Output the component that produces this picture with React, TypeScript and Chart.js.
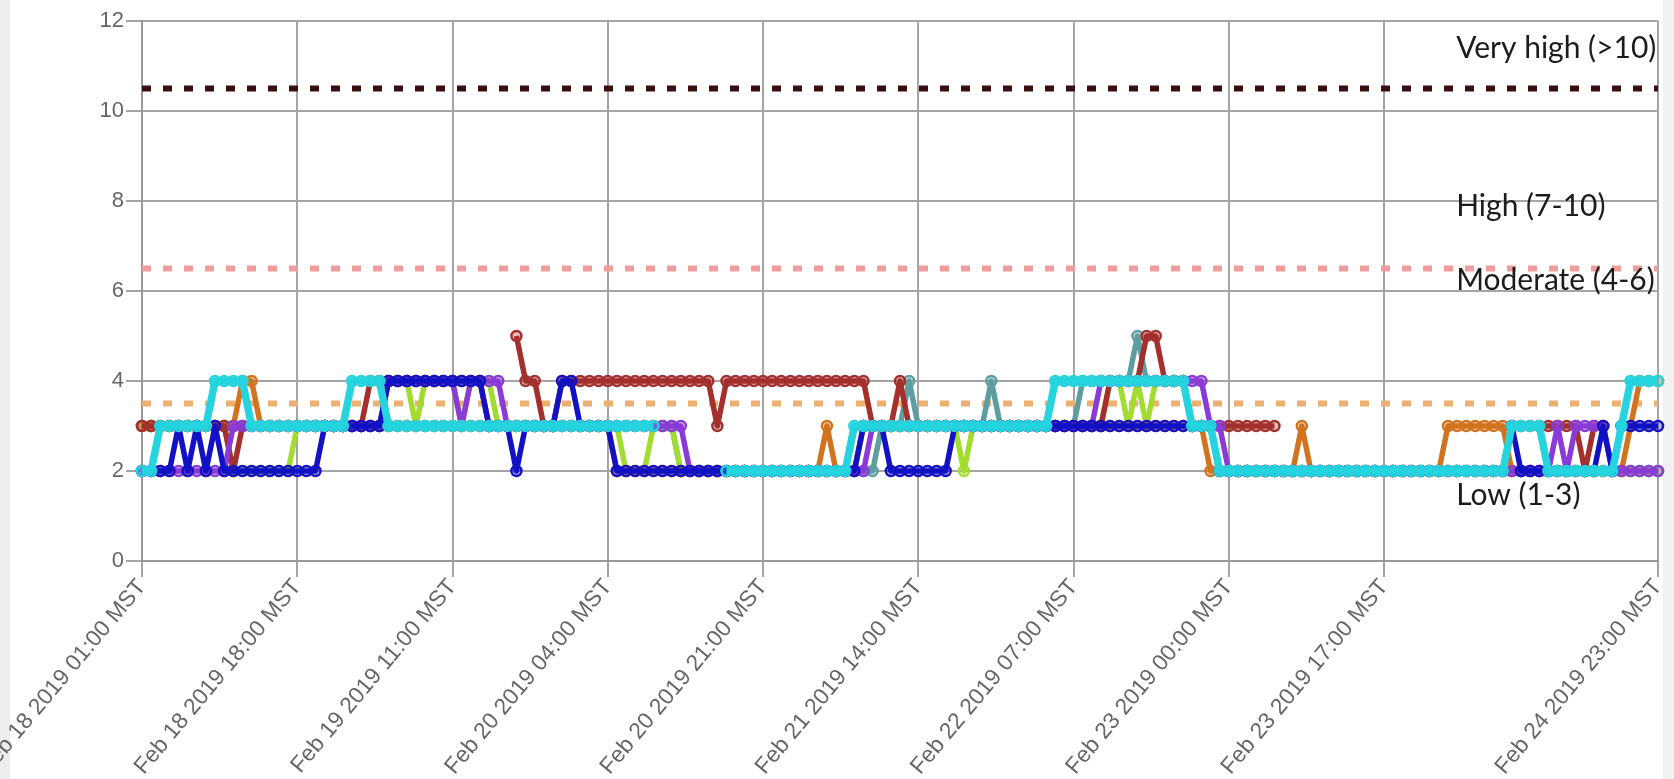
import React, { useEffect, useRef } from "react";
import { Chart, registerables } from "chart.js";

Chart.register(...registerables);

// Hourly index positions (0 = Feb 18 2019 01:00 MST) that carry an x-axis label.
const TICK_POS = [0, 17, 34, 51, 68, 85, 102, 119, 136, 166];
const TICK_LABELS = [
  "Feb 18 2019 01:00 MST",
  "Feb 18 2019 18:00 MST",
  "Feb 19 2019 11:00 MST",
  "Feb 20 2019 04:00 MST",
  "Feb 20 2019 21:00 MST",
  "Feb 21 2019 14:00 MST",
  "Feb 22 2019 07:00 MST",
  "Feb 23 2019 00:00 MST",
  "Feb 23 2019 17:00 MST",
  "Feb 24 2019 23:00 MST",
];
const X_MAX = 166;

// Hourly readings per station (null = no reading).
const N = null;
const CYAN = [
  2, 2, 3, 3, 3, 3, 3, 3, 4, 4,
  4, 4, 3, 3, 3, 3, 3, 3, 3, 3,
  3, 3, 3, 4, 4, 4, 4, 3, 3, 3,
  3, 3, 3, 3, 3, 3, 3, 3, 3, 3,
  3, 3, 3, 3, 3, 3, 3, 3, 3, 3,
  3, 3, 3, 3, 3, 3, 3, N, N, N,
  N, N, N, N, 2, 2, 2, 2, 2, 2,
  2, 2, 2, 2, 2, 2, 2, 2, 3, 3,
  3, 3, 3, 3, 3, 3, 3, 3, 3, 3,
  3, 3, 3, 3, 3, 3, 3, 3, 3, 3,
  4, 4, 4, 4, 4, 4, 4, 4, 4, 4,
  4, 4, 4, 4, 4, 3, 3, 3, 2, 2,
  2, 2, 2, 2, 2, 2, 2, 2, 2, 2,
  2, 2, 2, 2, 2, 2, 2, 2, 2, 2,
  2, 2, 2, 2, 2, 2, 2, 2, 2, 2,
  3, 3, 3, 3, 2, 2, 2, 2, 2, 2,
  2, 2, 3, 4, 4, 4, 4,
];
const BLUE = [
  2, 2, 2, 2, 3, 2, 3, 2, 3, 2,
  2, 2, 2, 2, 2, 2, 2, 2, 2, 2,
  3, 3, 3, 3, 3, 3, 3, 4, 4, 4,
  4, 4, 4, 4, 4, 4, 4, 4, 3, 3,
  3, 2, 3, 3, 3, 3, 4, 4, 3, 3,
  3, 3, 2, 2, 2, 2, 2, 2, 2, 2,
  2, 2, 2, 2, 2, 2, 2, 2, 2, 2,
  2, 2, 2, 2, 2, 2, 2, 2, 2, 3,
  3, 3, 2, 2, 2, 2, 2, 2, 2, 3,
  3, 3, 3, 3, 3, 3, 3, 3, 3, 3,
  3, 3, 3, 3, 3, 3, 3, 3, 3, 3,
  3, 3, 3, 3, 3, 3, 3, 3, 2, 2,
  2, 2, 2, 2, 2, 2, 2, 2, 2, 2,
  2, 2, 2, 2, 2, 2, 2, 2, 2, 2,
  2, 2, 2, 2, 2, 2, 2, 2, 2, 2,
  3, 2, 2, 2, 2, 2, 2, 2, 2, 2,
  3, 2, 3, 3, 3, 3, 3,
];
const PURPLE = [
  2, 2, 2, 2, 2, 2, 2, 2, 2, 2,
  3, 3, 3, 3, 3, 3, 3, 3, 3, 3,
  3, 3, 3, 3, 3, 3, 3, 4, 4, 4,
  4, 4, 4, 4, 4, 3, 4, 4, 4, 4,
  3, 3, 3, 3, 3, 3, 3, 3, 3, 3,
  3, 3, 3, 3, 3, 3, 3, 3, 3, 3,
  2, 2, 2, 2, 2, 2, 2, 2, 2, 2,
  2, 2, 2, 2, 2, 2, 2, 2, 2, 2,
  3, 3, 3, 3, 3, 3, 3, 3, 3, 3,
  3, 3, 3, 3, 3, 3, 3, 3, 3, 3,
  3, 3, 3, 3, 3, 4, 4, 4, 4, 4,
  4, 4, 4, 4, 4, 4, 4, 3, 3, 2,
  2, 2, 2, 2, 2, 2, 2, 2, 2, 2,
  2, 2, 2, 2, 2, 2, 2, 2, 2, 2,
  2, 2, 2, 2, 2, 2, 2, 2, 2, 2,
  2, 2, 2, 2, 2, 3, 2, 3, 3, 3,
  3, 2, 2, 2, 2, 2, 2,
];
const MAROON = [
  3, 3, 3, 3, 3, 3, 3, 3, 3, 3,
  2, 3, 3, 3, 3, 3, 3, 3, 3, 3,
  3, 3, 3, 3, 3, 4, 4, 4, 4, 4,
  4, 4, 4, 4, 4, 4, 4, 4, 3, N,
  N, 5, 4, 4, 3, 3, 4, 4, 4, 4,
  4, 4, 4, 4, 4, 4, 4, 4, 4, 4,
  4, 4, 4, 3, 4, 4, 4, 4, 4, 4,
  4, 4, 4, 4, 4, 4, 4, 4, 4, 4,
  3, 3, 3, 4, 3, 3, 3, 3, 3, 3,
  3, 3, 3, 3, 3, 3, 3, 3, 3, 3,
  3, 3, 3, 3, 3, 3, 4, 4, 4, 4,
  5, 5, 4, 4, 4, 3, 3, 3, 3, 3,
  3, 3, 3, 3, 3, N, N, N, N, N,
  N, N, N, N, N, N, N, N, N, N,
  N, N, N, N, N, N, N, N, N, N,
  3, 3, 3, 3, 3, 3, 3, 3, 2, 3,
  3, N, N, N, N, N, N,
];
const ORANGE = [
  3, 3, 3, 3, 3, 3, 3, 3, 3, 3,
  3, 4, 4, 3, 3, 3, 3, 3, 3, 3,
  3, 3, 3, 3, 3, 3, 3, 3, 3, 3,
  3, 3, 3, 3, 3, 3, 3, 3, 3, 3,
  3, 3, 3, 3, 3, 3, 3, 3, 3, 3,
  3, 3, 2, 2, 2, 2, 2, 2, 2, 2,
  2, 2, 2, 2, 2, 2, 2, 2, 2, 2,
  2, 2, 2, 2, 2, 3, 2, 2, 2, 3,
  3, 3, 3, 3, 3, 3, 3, 3, 3, 3,
  3, 3, 3, 3, 3, 3, 3, 3, 3, 3,
  3, 3, 3, 3, 3, 3, 3, 3, 3, 3,
  3, 3, 3, 3, 3, 3, 3, 2, 2, 2,
  2, 2, 2, 2, 2, 2, 2, 3, 2, 2,
  2, 2, 2, 2, 2, 2, 2, 2, 2, 2,
  2, 2, 2, 3, 3, 3, 3, 3, 3, 3,
  2, 2, 2, 2, 2, 2, 2, 2, 2, 2,
  2, 2, 2, 3, 4, 4, 4,
];
const GREEN = [
  3, 3, 3, 3, 3, 3, 3, 3, 3, 3,
  2, 2, 2, 2, 2, 2, 2, 3, 3, 3,
  3, 3, 3, 3, 3, 3, 3, 4, 4, 4,
  3, 4, 4, 4, 4, 3, 4, 4, 4, 3,
  3, 3, 3, 3, 3, 3, 3, 3, 3, 3,
  3, 3, 3, 2, 2, 2, 3, 3, 3, 2,
  2, 2, 2, 2, 2, 2, 2, 2, 2, 2,
  2, 2, 2, 2, 2, 2, 2, 2, 2, 3,
  3, 3, 3, 3, 3, 3, 3, 3, 3, 3,
  2, 3, 3, 3, 3, 3, 3, 3, 3, 3,
  3, 3, 3, 3, 3, 3, 4, 4, 3, 4,
  3, 4, 4, 4, 4, 3, 3, 3, 2, 2,
  2, 2, 2, 2, 2, 2, 2, 2, 2, 2,
  2, 2, 2, 2, 2, 2, 2, 2, 2, 2,
  2, 2, 2, 2, 2, 2, 2, 2, 2, 2,
  2, 2, 2, 2, 2, 2, 2, 2, 2, 2,
  2, 2, 2, 2, 2, 2, 2,
];
const TEAL = [
  3, 3, 3, 3, 3, 3, 3, 3, 3, 3,
  3, 3, 3, 3, 3, 3, 3, 3, 3, 3,
  3, 3, 3, 3, 3, 3, 3, 3, 3, 3,
  3, 3, 3, 3, 3, 3, 3, 3, 3, 3,
  3, 3, 3, 3, 3, 3, 3, 3, 3, 3,
  3, 3, 3, 3, 3, 3, 3, 3, 3, 2,
  2, 2, 2, 2, 2, 2, 2, 2, 2, 2,
  2, 2, 2, 2, 2, 2, 2, 2, 2, 2,
  2, 3, 3, 3, 4, 3, 3, 3, 3, 3,
  3, 3, 3, 4, 3, 3, 3, 3, 3, 3,
  3, 3, 3, 4, 4, 4, 4, 4, 4, 5,
  4, 4, 4, 4, 4, 3, 3, 3, 2, 2,
  2, 2, 2, 2, 2, 2, 2, 2, 2, 2,
  2, 2, 2, 2, 2, 2, 2, 2, 2, 2,
  2, 2, 2, 2, 2, 2, 2, 2, 2, 2,
  2, 2, 2, 2, 2, 2, 2, 2, 2, 2,
  2, 2, 2, 2, 2, 2, 2,
];

// Series drawn top-most first.
const SERIES = [
  { values: CYAN, color: "#25d4de", width: 7.5 },
  { values: BLUE, color: "#1212c4", width: 5.5 },
  { values: PURPLE, color: "#8a3ad6", width: 5.5 },
  { values: MAROON, color: "#a3302c", width: 5.5 },
  { values: ORANGE, color: "#d2741f", width: 5.5 },
  { values: GREEN, color: "#a2dc30", width: 5.5 },
  { values: TEAL, color: "#5f9ea0", width: 5.5 },
];

// Dotted band boundaries.
const THRESHOLDS = [10.5, 6.5, 3.5];
const THRESHOLD_COLORS = ["#3a0f0f", "#ef9c9c", "#ecb070"];

// Band captions: text, anchor value on the y axis (baseline), shared x anchor.
const BAND_LABELS = ["Very high (>10)", "High (7-10)", "Moderate (4-6)", "Low (1-3)"];
const BAND_LABEL_Y = [11.18, 7.67, 6.02, 1.24];
const BAND_LABEL_X = 143.9;

function withAlpha(hex: string, a: number) {
  const r = parseInt(hex.slice(1, 3), 16);
  const g = parseInt(hex.slice(3, 5), 16);
  const b = parseInt(hex.slice(5, 7), 16);
  return `rgba(${r},${g},${b},${a})`;
}

const bandLabelPlugin = {
  id: "bandLabels",
  afterDraw(chart: any) {
    const { ctx, scales } = chart;
    ctx.save();
    ctx.font = "30px Lato, 'Open Sans', sans-serif";
    ctx.fillStyle = "#1c1c1c";
    ctx.textAlign = "left";
    ctx.textBaseline = "alphabetic";
    const x = scales.x.getPixelForValue(BAND_LABEL_X);
    BAND_LABELS.forEach((t, k) => {
      ctx.fillText(t, x, scales.y.getPixelForValue(BAND_LABEL_Y[k]));
    });
    ctx.restore();
  },
};

const FAMILY = "'Liberation Sans', Arial, sans-serif";
const GRID_COLOR = "#a5a5a5";

export default function App() {
  const ref = useRef<HTMLCanvasElement | null>(null);

  useEffect(() => {
    if (!ref.current) return;
    const seriesSets = SERIES.map((s) => ({
      data: s.values.map((y, i) => ({ x: i, y })),
      borderColor: s.color,
      backgroundColor: s.color,
      borderWidth: s.width,
      borderJoinStyle: "round",
      pointRadius: 5,
      pointBorderWidth: 2.5,
      pointBorderColor: s.color,
      pointBackgroundColor: withAlpha(s.color, 0.3),
      tension: 0,
      fill: false,
      clip: 8,
    }));
    const thresholdSets = THRESHOLDS.map((t, k) => ({
      data: [
        { x: 0, y: t },
        { x: X_MAX, y: t },
      ],
      borderColor: THRESHOLD_COLORS[k],
      borderWidth: 6,
      borderDash: [9, 12],
      pointRadius: 0,
      tension: 0,
      fill: false,
    }));

    const chart = new Chart(ref.current, {
      type: "line",
      data: { datasets: [...seriesSets, ...thresholdSets] as any },
      options: {
        animation: false,
        responsive: false,
        devicePixelRatio: 1,
        events: [],
        layout: { padding: { top: 21, right: 16, left: 0, bottom: 0 } },
        plugins: { legend: { display: false }, tooltip: { enabled: false } },
        scales: {
          x: {
            type: "linear",
            min: 0,
            max: X_MAX,
            afterBuildTicks: (s: any) => {
              s.ticks = TICK_POS.map((v) => ({ value: v }));
            },
            afterFit: (s: any) => {
              s.height = 218;
              s.paddingLeft = 0;
              s.paddingRight = 0;
            },
            grid: { color: GRID_COLOR, lineWidth: 2, tickLength: 16 },
            border: { color: "#999", width: 2 },
            ticks: {
              autoSkip: false,
              minRotation: 50,
              maxRotation: 50,
              padding: -3,
              color: "#666",
              font: { family: FAMILY, size: 22.8 },
              callback: (v: any) => {
                const k = TICK_POS.indexOf(Number(v));
                return k >= 0 ? TICK_LABELS[k] : "";
              },
            },
          },
          y: {
            min: 0,
            max: 12,
            afterFit: (s: any) => {
              s.width = 142;
              s.paddingTop = 0;
              s.paddingBottom = 0;
            },
            grid: { color: GRID_COLOR, lineWidth: 2, tickLength: 16 },
            border: { color: "#999", width: 2 },
            ticks: { stepSize: 2, padding: 2, color: "#666", font: { family: FAMILY, size: 22 } },
          },
        },
      } as any,
      plugins: [bandLabelPlugin],
    });
    return () => chart.destroy();
  }, []);

  return (
    <div
      style={{
        position: "fixed",
        left: 0,
        top: 0,
        width: 1674,
        height: 779,
        background: "#ffffff",
        overflow: "hidden",
      }}
    >
      <div style={{ position: "absolute", left: 0, top: 0, width: 10, height: 779, background: "#ededed" }} />
      <div style={{ position: "absolute", left: 1663, top: 0, width: 11, height: 779, background: "#f1f1f1" }} />
      <canvas
        ref={ref}
        width={1674}
        height={779}
        style={{ position: "absolute", left: 0, top: 0, width: 1674, height: 779 }}
      />
    </div>
  );
}
